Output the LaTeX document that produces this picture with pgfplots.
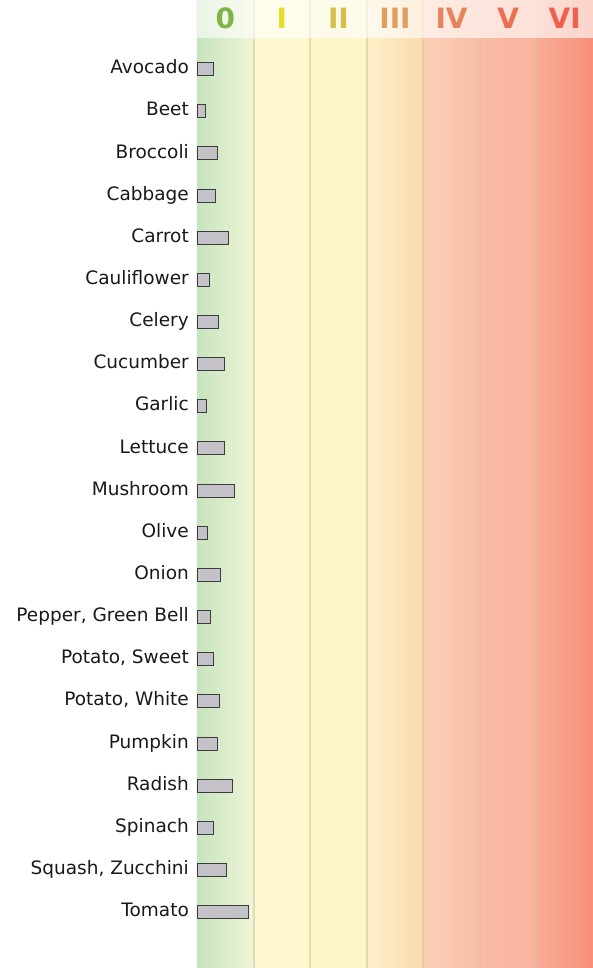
\documentclass[border=0pt]{standalone}
\usepackage{fontspec}
\setmainfont{DejaVu Sans}
\usepackage{pgfplots}
\pgfplotsset{compat=1.18}
\definecolor{barfill}{RGB}{196,194,200}
\definecolor{bardraw}{RGB}{60,60,60}
\definecolor{labcol}{RGB}{25,25,25}
\definecolor{zAl}{RGB}{198,228,190}
\definecolor{zAr}{RGB}{240,245,214}
\definecolor{zB}{RGB}{253,248,205}
\definecolor{zC}{RGB}{253,246,200}
\definecolor{zDl}{RGB}{253,241,202}
\definecolor{zDr}{RGB}{250,217,172}
\definecolor{zEl}{RGB}{252,206,182}
\definecolor{zEr}{RGB}{248,190,166}
\definecolor{zFl}{RGB}{250,186,164}
\definecolor{zFr}{RGB}{249,180,158}
\definecolor{zGl}{RGB}{248,172,152}
\definecolor{zGr}{RGB}{247,144,118}
\definecolor{divcol}{RGB}{215,195,160}
\definecolor{h0}{RGB}{128,180,70}
\definecolor{h1}{RGB}{232,222,40}
\definecolor{h2}{RGB}{212,192,72}
\definecolor{h3}{RGB}{222,160,96}
\definecolor{h4}{RGB}{232,132,92}
\definecolor{h5}{RGB}{236,112,80}
\definecolor{h6}{RGB}{240,96,76}
\begin{document}
\begin{tikzpicture}
\useasboundingbox (-197bp,0) rectangle (396bp,968bp);
\begin{axis}[
  at={(0,0)}, anchor=south west,
  width=396bp, height=968bp, scale only axis,
  xmin=0, xmax=7,
  ymin=-1.637, ymax=21.33, y dir=reverse,
  xbar, bar width=13bp,
  ytick={0,...,20},
  yticklabels={Avocado,Beet,Broccoli,Cabbage,Carrot,Cauliflower,Celery,Cucumber,Garlic,Lettuce,Mushroom,Olive,Onion,{Pepper, Green Bell},{Potato, Sweet},{Potato, White},Pumpkin,Radish,Spinach,{Squash, Zucchini},Tomato},
  xtick=\empty,
  axis line style={draw=none},
  major tick length=0pt,
  ytick style={draw=none},
  yticklabel style={font=\fontsize{18.5bp}{22bp}\selectfont, text=labcol, inner sep=0pt, xshift=-8bp, anchor=east, text height=14bp, text depth=4.5bp},
]
\shade[left color=zAl, right color=zAr] (axis cs:0,-1.637) rectangle (axis cs:1,21.33);
\fill[zB] (axis cs:1,-1.637) rectangle (axis cs:2,21.33);
\fill[zC] (axis cs:2,-1.637) rectangle (axis cs:3,21.33);
\shade[left color=zDl, right color=zDr] (axis cs:3,-1.637) rectangle (axis cs:4,21.33);
\shade[left color=zEl, right color=zEr] (axis cs:4,-1.637) rectangle (axis cs:5,21.33);
\shade[left color=zFl, right color=zFr] (axis cs:5,-1.637) rectangle (axis cs:6,21.33);
\shade[left color=zGl, right color=zGr] (axis cs:6,-1.637) rectangle (axis cs:7,21.33);
\draw[line width=2bp, divcol, opacity=0.55] (axis cs:1,-1.637) -- (axis cs:1,21.33);
\draw[line width=2bp, divcol, opacity=0.55] (axis cs:2,-1.637) -- (axis cs:2,21.33);
\draw[line width=2bp, divcol, opacity=0.55] (axis cs:3,-1.637) -- (axis cs:3,21.33);
\draw[line width=2bp, divcol, opacity=0.55] (axis cs:4,-1.637) -- (axis cs:4,21.33);
\draw[line width=2bp, divcol, opacity=0.55] (axis cs:5,-1.637) -- (axis cs:5,21.33);
\draw[line width=2bp, divcol, opacity=0.55] (axis cs:6,-1.637) -- (axis cs:6,21.33);
\fill[white, opacity=0.62] (axis cs:0,-1.637) rectangle (axis cs:7,-0.7355);
\node[font=\fontsize{28bp}{30bp}\selectfont\bfseries, text=h0] at (axis cs:0.5,-1.21) {0};
\node[font=\fontsize{28bp}{30bp}\selectfont\bfseries, text=h1] at (axis cs:1.5,-1.21) {I};
\node[font=\fontsize{28bp}{30bp}\selectfont\bfseries, text=h2] at (axis cs:2.5,-1.21) {II};
\node[font=\fontsize{28bp}{30bp}\selectfont\bfseries, text=h3] at (axis cs:3.5,-1.21) {III};
\node[font=\fontsize{28bp}{30bp}\selectfont\bfseries, text=h4] at (axis cs:4.5,-1.21) {IV};
\node[font=\fontsize{28bp}{30bp}\selectfont\bfseries, text=h5] at (axis cs:5.5,-1.21) {V};
\node[font=\fontsize{28bp}{30bp}\selectfont\bfseries, text=h6] at (axis cs:6.5,-1.21) {VI};
\addplot[fill=barfill, draw=bardraw, line width=0.7bp] coordinates {
(0.283,0) (0.141,1) (0.354,2) (0.330,3) (0.555,4) (0.224,5) (0.371,6) (0.490,7) (0.159,8) (0.484,9)
(0.666,10) (0.189,11) (0.419,12) (0.237,13) (0.283,14) (0.396,15) (0.354,16) (0.626,17) (0.283,18) (0.520,19) (0.900,20)
};
\end{axis}
\end{tikzpicture}
\end{document}
